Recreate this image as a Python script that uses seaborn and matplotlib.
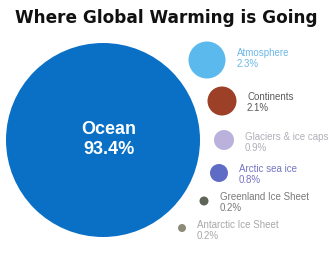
import matplotlib
matplotlib.use("Agg")
import matplotlib.pyplot as plt
import seaborn as sns
import pandas as pd

# Data
categories = ["Ocean", "Atmosphere", "Continents", "Glaciers & ice caps",
              "Arctic sea ice", "Greenland Ice Sheet", "Antarctic Ice Sheet"]
values = [93.4, 2.3, 2.1, 0.9, 0.8, 0.2, 0.2]

# Layout (pixel coordinates) and styles
pos_x = [103, 207, 222, 224, 219, 204, 182]
pos_y = [140, 60, 101, 140, 173, 201, 228]
radius_px = [97, 18.5, 14.5, 10, 9, 4.5, 4]
bubble_colors = ["#0a70c6", "#5cb9ee", "#9c4028", "#bab2dc", "#5f6cc6", "#5e6456", "#8c8a78"]
label_colors = [None, "#6cb8e6", "#5a5a5a", "#b0b0b8", "#7474c4", "#7a7a7a", "#a8a8a8"]
label_x = [None, 237, 247, 245, 239, 220, 197]
label_y = [None, 53, 97, 137, 169, 197, 225]

df = pd.DataFrame({"category": categories, "value": values, "x": pos_x, "y": pos_y})

W, H, DPI = 335, 258, 100
fig = plt.figure(figsize=(W / DPI, H / DPI), dpi=DPI)
ax = fig.add_axes([0, 0, 1, 1])
ax.set_xlim(0, W)
ax.set_ylim(H, 0)
ax.axis("off")

px2pt = 72 / DPI
sizes = {c: (2 * r * px2pt) ** 2 for c, r in zip(categories, radius_px)}
palette = dict(zip(categories, bubble_colors))

sns.scatterplot(data=df, x="x", y="y", hue="category", size="category",
                sizes=sizes, palette=palette, legend=False, linewidth=0,
                ax=ax, clip_on=False)

ax.text(166, 18, "Where Global Warming is Going", ha="center", va="center",
        fontsize=12.2, fontweight="bold", family="DejaVu Sans", color="#111111")

ax.text(109, 130, categories[0], ha="center", va="center", color="white",
        fontsize=13, fontweight="bold", family="Liberation Sans")
ax.text(109, 150, f"{values[0]}%", ha="center", va="center", color="white",
        fontsize=13, fontweight="bold", family="Liberation Sans")

for i in range(1, len(categories)):
    ax.text(label_x[i], label_y[i], categories[i], ha="left", va="center",
            color=label_colors[i], fontsize=7, family="Liberation Sans")
    ax.text(label_x[i], label_y[i] + 11, f"{values[i]}%", ha="left", va="center",
            color=label_colors[i], fontsize=7, family="Liberation Sans")

fig.savefig("out.png", dpi=DPI, facecolor="white")
